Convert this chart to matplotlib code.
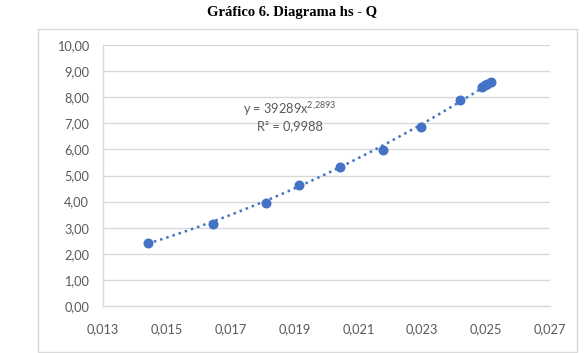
import matplotlib
matplotlib.use('Agg')
import matplotlib.pyplot as plt
import numpy as np
from matplotlib.patches import Rectangle

# Q (m3/s) and hs (m)
Q = [0.01440, 0.01646, 0.01810, 0.01914, 0.02043, 0.02176, 0.02295,
     0.02419, 0.02487, 0.02496, 0.02502, 0.02517]
hs = [2.40, 3.14, 3.95, 4.64, 5.34, 5.99, 6.85, 7.89, 8.39, 8.46, 8.50, 8.58]

# power trendline shown on the chart
coef_a = 39289
coef_b = 2.2893
r2_text = '0,9988'

x_ticks = [0.013, 0.015, 0.017, 0.019, 0.021, 0.023, 0.025, 0.027]
y_ticks = [0, 1, 2, 3, 4, 5, 6, 7, 8, 9, 10]

plt.rcParams['font.family'] = ['Lato', 'DejaVu Sans']
plt.rcParams['mathtext.default'] = 'regular'

blue = '#4472C4'
grid_c = '#d9d9d9'
txt_c = '#595959'

fig = plt.figure(figsize=(5.85, 3.53), dpi=100)
fig.patch.set_facecolor('white')

# outer chart frame
fig.patches.append(Rectangle((0.065, 0.003), 0.921, 0.915, transform=fig.transFigure,
                             fill=False, edgecolor=grid_c, linewidth=1.0))

fig.text(0.5, 0.965, 'Gráfico 6. Diagrama hs - Q', ha='center', va='center',
         fontsize=10.5, fontweight='bold', family='Liberation Serif')

ax = fig.add_axes([0.176, 0.1331, 0.764, 0.7394])

xt = np.linspace(min(Q), max(Q), 100)
ax.plot(xt, coef_a * xt ** coef_b, linestyle=(0, (1, 1.6)), color=blue,
        linewidth=1.8, zorder=2)
ax.plot(Q, hs, 'o', color=blue, markersize=6.2, zorder=3)

ax.set_xlim(0.013, 0.027)
ax.set_ylim(0, 10)
ax.set_xticks(x_ticks)
ax.set_yticks(y_ticks)
ax.set_xticklabels([('%.3f' % v).replace('.', ',') for v in x_ticks])
ax.set_yticklabels([('%.2f' % v).replace('.', ',') for v in y_ticks])
ax.tick_params(axis='both', length=0, labelsize=9.2, labelcolor=txt_c)
ax.tick_params(axis='y', pad=10)
ax.tick_params(axis='x', pad=12)

ax.grid(axis='y', color=grid_c, linewidth=1.0)
ax.set_axisbelow(True)
for side in ['top', 'right']:
    ax.spines[side].set_visible(False)
for side in ['left', 'bottom']:
    ax.spines[side].set_color(grid_c)
    ax.spines[side].set_linewidth(1.0)

eq = 'y = %dx$^{%s}$' % (coef_a, ('%.4f' % coef_b).replace('.', '{,}'))
ax.text(0.01886, 7.55, eq, ha='center', va='center', fontsize=9.2, color=txt_c)
ax.text(0.01886, 6.90, 'R² = ' + r2_text, ha='center', va='center',
        fontsize=9.2, color=txt_c)

fig.savefig('out.png', dpi=100)
